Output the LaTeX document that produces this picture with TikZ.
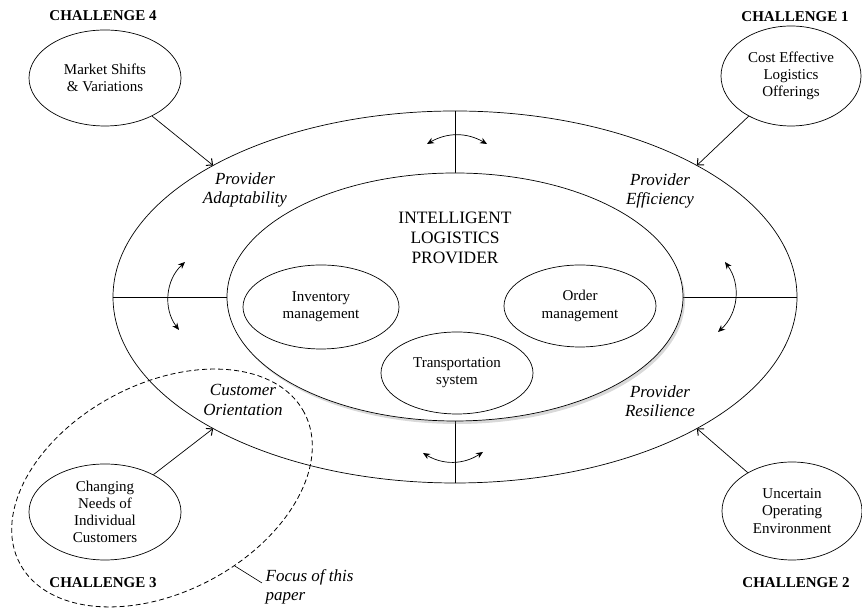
\documentclass[tikz,border=0pt]{standalone}
\usepackage{fontspec}
\setmainfont{Liberation Serif}
\usetikzlibrary{shapes.geometric,arrows.meta,shadows,calc}

\begin{document}
\begin{tikzpicture}[x=1pt,y=1pt,line width=0.7pt,
   challenge/.style={draw, ellipse, inner sep=0pt, align=center, font=\fontsize{15}{17.25}\selectfont},
   task/.style={draw, ellipse, fill=white, inner sep=0pt, align=center, font=\fontsize{15}{17.25}\selectfont},
   chlabel/.style={font=\fontsize{15}{17}\selectfont\bfseries},
   pillar/.style={align=center, font=\fontsize{17}{19.6}\selectfont\itshape},
   push/.style={-{Straight Barb[length=5pt,width=9pt,line width=1pt]}},
   swing/.style={{Stealth[length=7pt,width=6pt]}-{Stealth[length=7pt,width=6pt]}}]
   \useasboundingbox (0,0) rectangle (862,609);

   % outer ring and provider core
   \node[draw, ellipse, inner sep=0pt, minimum width=684, minimum height=372] (outer) at (455,312) {};
   \draw (outer.north) -- (455,436) (outer.south) -- (455,188);
   \draw (outer.west) -- (227,312) (outer.east) -- (683,312);
   \node[draw, ellipse, fill=white, inner sep=0pt, minimum width=456, minimum height=248,
         drop shadow={opacity=0.3, shadow xshift=2pt, shadow yshift=-3pt}] (core) at (455,312) {};

   \node[align=center, font=\fontsize{17.4}{20}\selectfont] (title) at (455,371) {INTELLIGENT\\LOGISTICS\\PROVIDER};
   \node[task, minimum width=156, minimum height=84] (inv) at (321,302) {Inventory\\management};
   \node[task, minimum width=152, minimum height=82] (ord) at (580,303) {Order\\management};
   \node[task, minimum width=152, minimum height=82] (trans) at (457,236) {Transportation\\system};

   % four capabilities
   \node[pillar] (adapt) at (245,419) {Provider\\Adaptability};
   \node[pillar] (effic) at (660,418) {Provider\\Efficiency};
   \node[pillar] (orient) at (243,209) {Customer\\Orientation};
   \node[pillar] (resil) at (660,208) {Provider\\Resilience};

   % swing arrows
   \coordinate (tl) at (427,465); \coordinate (tr) at (487,465);
   \coordinate (bl) at (423,156); \coordinate (br) at (483,157);
   \coordinate (lt) at (185,347); \coordinate (lb) at (179,279);
   \coordinate (rt) at (725,347); \coordinate (rb) at (718,277);
   \draw[swing] (tl) to[bend left=30] (tr);
   \draw[swing] (bl) to[bend right=32] (br);
   \draw[swing] (lt) to[bend right=42] (lb);
   \draw[swing] (rt) to[bend left=42] (rb);

   % challenges
   \node[challenge, minimum width=152, minimum height=96] (mkt) at (105,531) {Market Shifts\\\& Variations};
   \node[challenge, minimum width=140, minimum height=100] (cost) at (791,533) {Cost Effective\\Logistics\\Offerings};
   \node[challenge, minimum width=152, minimum height=96] (needs) at (105,97) {Changing\\Needs of\\Individual\\Customers};
   \node[challenge, minimum width=140, minimum height=98] (unc) at (792,98) {Uncertain\\Operating\\Environment};

   \node[chlabel] (ch4) at (103,593) {CHALLENGE 4};
   \node[chlabel] (ch1) at (795,592) {CHALLENGE 1};
   \node[chlabel] (ch3) at (103,26) {CHALLENGE 3};
   \node[chlabel] (ch2) at (796,26) {CHALLENGE 2};

   \coordinate (hitA) at ($(outer.center)+(135:342 and 186)$);
   \coordinate (hitE) at ($(outer.center)+(45:342 and 186)$);
   \coordinate (hitO) at ($(outer.center)+(225:342 and 186)$);
   \coordinate (hitR) at ($(outer.center)+(315:342 and 186)$);
   \draw[push] (mkt) -- (hitA);
   \draw[push] (cost) -- (hitE);
   \draw[push] (needs) -- (hitO);
   \draw[push] (unc) -- (hitR);

   % focus of this paper
   \node[draw, dash pattern=on 5pt off 3pt, line width=0.8pt, ellipse, rotate=28, inner sep=0pt,
         minimum width=322, minimum height=208] (focus) at (162,121) {};
   \node[anchor=west, align=left, font=\fontsize{17}{19.6}\selectfont\itshape] (note) at (262,22) {Focus of this\\paper};
   \draw[line width=0.6pt] (focus.-75) -- ([yshift=4pt]note.west);
\end{tikzpicture}
\end{document}
